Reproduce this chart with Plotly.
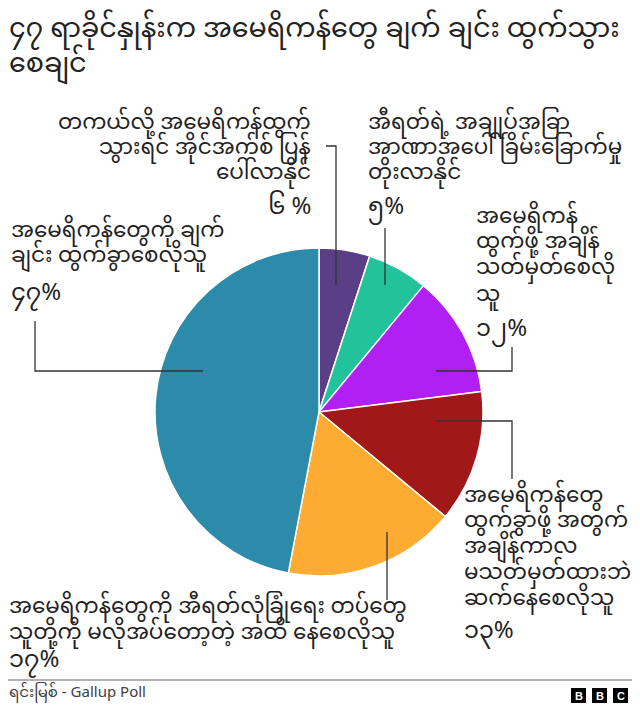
import plotly.graph_objects as go

# page body has an 8px default margin; draw in reference-pixel coordinates
OFF = 8
W, H = 632, 695

# ---- data ----
categories = [
    "IS may return",
    "Threat to Iraqi sovereignty",
    "Set a timetable",
    "Stay without timetable",
    "Stay until security forces no longer need them",
    "Leave immediately",
]
values = [5, 6, 12, 13, 17, 47]
pct_labels = ["၆ %", "၅%", "၁၂%", "၁၃%", "၁၇%", "၄၇%"]
label_lines = [
    ["တကယ်လို့ အမေရိကန်ထွက်", "သွားရင် အိုင်အက်စ် ပြန်", "ပေါ်လာနိုင်"],
    ["အီရတ်ရဲ့ အချုပ်အခြာ", "အာဏာအပေါ် ခြိမ်းခြောက်မှု", "တိုးလာနိုင်"],
    ["အမေရိကန်", "ထွက်ဖို့ အချိန်", "သတ်မှတ်စေလို", "သူ"],
    ["အမေရိကန်တွေ", "ထွက်ခွာဖို့ အတွက်", "အချိန်ကာလ", "မသတ်မှတ်ထားဘဲ", "ဆက်နေစေလိုသူ"],
    ["အမေရိကန်တွေကို အီရတ်လုံခြုံရေး တပ်တွေ", "သူတို့ကို မလိုအပ်တော့တဲ့ အထိ နေစေလိုသူ"],
    ["အမေရိကန်တွေကို ချက်", "ချင်း ထွက်ခွာစေလိုသူ"],
]
colors = ["#5b3f86", "#22c39a", "#b01ff3", "#a11818", "#fdab33", "#2b8ba8"]

title = "၄၇ ရာခိုင်နှုန်းက အမေရိကန်တွေ ချက် ချင်း ထွက်သွား<br>စေချင်"
source = "ရင်းမြစ် - Gallup Poll"

FONT = "Noto Sans Myanmar, Padauk, Myanmar Text, Noto Sans, sans-serif"

def px(x):
    return (x - OFF) / W

def py(y):
    return 1 - (y - OFF) / H

# pie geometry (reference pixels)
cx, cy, r = 319, 412, 164

fig = go.Figure(go.Pie(
    labels=categories,
    values=values,
    marker=dict(colors=colors, line=dict(color="white", width=1.5)),
    sort=False,
    direction="clockwise",
    rotation=0,
    textinfo="none",
    hoverinfo="label+percent",
    showlegend=False,
    domain=dict(x=[px(cx - r), px(cx + r)], y=[py(cy + r), py(cy - r)]),
))

annotations = []
def ann(text, x, y, xanchor="left", yanchor="middle", size=21.5, align="left", color="#222222"):
    annotations.append(dict(
        text=text, x=px(x), y=py(y), xref="paper", yref="paper",
        xanchor=xanchor, yanchor=yanchor, showarrow=False, align=align,
        borderpad=0,
        font=dict(family=FONT, size=size, color=color),
    ))

PS = 24  # percentage label size

# title
ann(title, 8, 48, size=27)

# label placement: (x, anchor, line centres, pct centre)
placement = [
    (312, "right", [124, 149, 174], 208),
    (367, "left", [124, 149, 174], 208),
    (475, "left", [218, 243, 269, 296], 330),
    (463, "left", [497, 522, 548, 574, 600], 632),
    (8, "left", [608, 634], 661),
    (10, "left", [232, 257], 295),
]
for (x, anchor, ys, pyc), lines, pct in zip(placement, label_lines, pct_labels):
    for line, yy in zip(lines, ys):
        ann(line, x, yy, xanchor=anchor, align=anchor)
    ann(pct, x, pyc, xanchor=anchor, align=anchor, size=PS)

# source
ann(source, 8, 693, size=15, color="#404040")

shapes = []
def seg(points, color="#333333", width=1.3):
    path = "M " + " L ".join(f"{px(x)},{py(y)}" for x, y in points)
    shapes.append(dict(type="path", path=path, xref="paper", yref="paper",
                       line=dict(color=color, width=width)))

# leader lines
seg([(326, 146), (336, 146), (336, 285)])
seg([(385, 228), (385, 285)])
seg([(436, 371), (512, 371), (512, 347)])
seg([(436, 421), (512, 421), (512, 479)])
seg([(387, 532), (387, 600)])
seg([(203, 371), (35, 371), (35, 321)])

# footer rule
seg([(8, 680), (640, 680)], color="#666666", width=1.2)

# BBC logo
for i, letter in enumerate(["B", "B", "C"]):
    x0 = 571 + i * 21
    shapes.append(dict(type="rect", xref="paper", yref="paper",
                       x0=px(x0), x1=px(x0 + 15), y0=py(703), y1=py(688),
                       fillcolor="#000000", line=dict(width=0)))
    annotations.append(dict(text=f"<b>{letter}</b>", x=px(x0 + 7.5), y=py(695.5),
                            xref="paper", yref="paper", showarrow=False,
                            xanchor="center", yanchor="middle",
                            font=dict(family="Liberation Sans, Arial, sans-serif", size=11, color="white")))

fig.update_layout(
    width=W, height=H,
    margin=dict(l=0, r=0, t=0, b=0),
    paper_bgcolor="white", plot_bgcolor="white",
    annotations=annotations, shapes=shapes,
)

fig.write_html("out.html")
